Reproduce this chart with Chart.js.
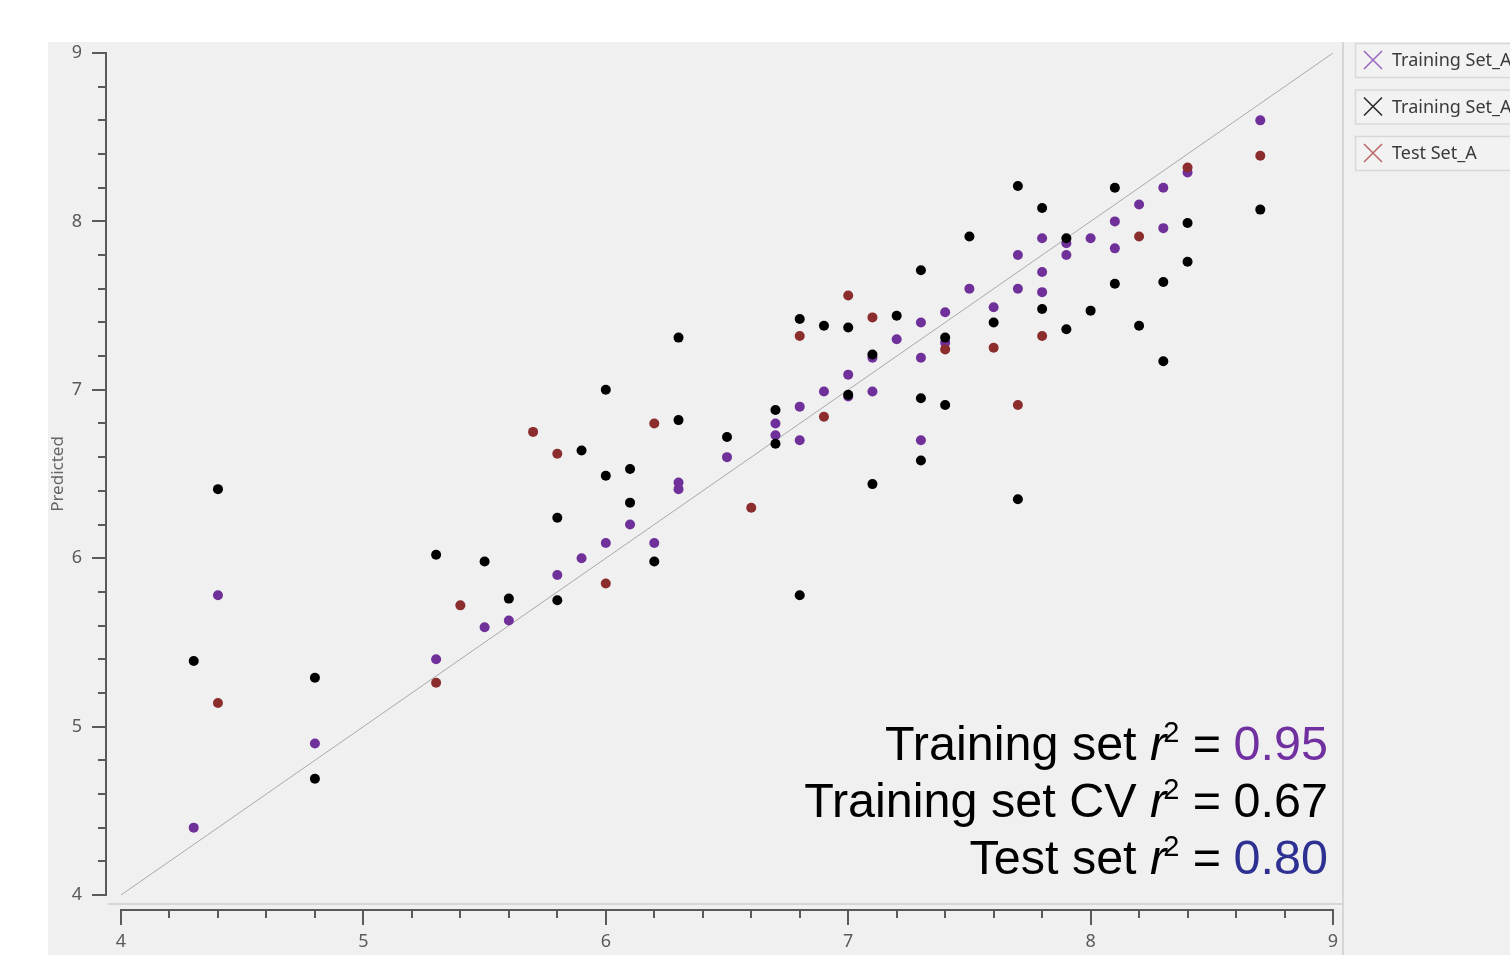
<!DOCTYPE html>
<html>
<head>
<meta charset="utf-8">
<title>Predicted vs observed</title>
<script src="https://cdn.jsdelivr.net/npm/chart.js@4/dist/chart.umd.min.js"></script>
<style>
  body { margin:0; background:#ffffff; }
  canvas { display:block; }
</style>
</head>
<body>
<canvas id="qsar" width="1510" height="955"></canvas>
<script>
// training set, fitted values (purple)
var trainX = [4.3,4.4,4.8,5.3,5.5,5.6,5.8,5.9,6.0,6.1,6.2,6.3,6.3,6.5,6.7,6.7,6.8,6.8,6.9,7.0,7.0,7.1,7.1,7.2,7.3,7.3,7.3,7.4,7.4,7.5,7.6,7.7,7.7,7.8,7.8,7.8,7.9,7.9,8.0,8.1,8.1,8.2,8.3,8.3,8.4,8.7];
var trainY = [4.40,5.78,4.90,5.40,5.59,5.63,5.90,6.00,6.09,6.20,6.09,6.41,6.45,6.60,6.73,6.80,6.70,6.90,6.99,6.96,7.09,6.99,7.19,7.30,6.70,7.19,7.40,7.28,7.46,7.60,7.49,7.60,7.80,7.58,7.70,7.90,7.80,7.87,7.90,7.84,8.00,8.10,7.96,8.20,8.29,8.60];

// training set, cross-validated (black)
var cvX = [4.3,4.4,4.8,4.8,5.3,5.5,5.6,5.8,5.8,5.9,6.0,6.0,6.1,6.1,6.2,6.3,6.3,6.5,6.7,6.7,6.8,6.8,6.9,7.0,7.0,7.1,7.1,7.2,7.3,7.3,7.3,7.4,7.4,7.5,7.6,7.7,7.7,7.8,7.8,7.9,7.9,8.0,8.1,8.1,8.2,8.3,8.3,8.4,8.4,8.7];
var cvY = [5.39,6.41,5.29,4.69,6.02,5.98,5.76,6.24,5.75,6.64,7.00,6.49,6.53,6.33,5.98,7.31,6.82,6.72,6.88,6.68,7.42,5.78,7.38,7.37,6.97,7.21,6.44,7.44,7.71,6.95,6.58,7.31,6.91,7.91,7.40,8.21,6.35,8.08,7.48,7.90,7.36,7.47,8.20,7.63,7.38,7.64,7.17,7.99,7.76,8.07];

// test set (dark red)
var testX = [4.4,5.3,5.4,5.7,5.8,6.0,6.2,6.6,6.8,6.9,7.0,7.1,7.4,7.6,7.7,7.8,8.2,8.4,8.7];
var testY = [5.14,5.26,5.72,6.75,6.62,5.85,6.80,6.30,7.32,6.84,7.56,7.43,7.24,7.25,6.91,7.32,7.91,8.32,8.39];

var seriesNames = ['Training Set_A', 'Training Set_A', 'Test Set_A'];
var seriesColors = ['#70309a', '#000000', '#8c2d2d'];
var legendMarks = ['#9b6cc0', '#2a2a2a', '#bb6a6a'];

var axisMin = 4, axisMax = 9;

var statLabels = ['Training set', 'Training set CV', 'Test set'];
var statValues = ['0.95', '0.67', '0.80'];
var statColors = ['#7030a0', '#000000', '#2e3192'];

var uiFont = '"Noto Sans", "DejaVu Sans", sans-serif';

function pairs(xs, ys) {
  var out = [];
  for (var i = 0; i < xs.length; i++) out.push({x: xs[i], y: ys[i]});
  return out;
}

function isMajor(v) {
  return Math.abs(v - Math.round(v)) < 1e-6;
}

// grey panel, separator lines
var panelPlugin = {
  id: 'panel',
  beforeDraw: function(chart) {
    var c = chart.ctx;
    c.save();
    c.fillStyle = '#ffffff';
    c.fillRect(0, 0, chart.width, chart.height);
    c.fillStyle = '#f0f0f0';
    c.fillRect(48, 42, chart.width - 48, chart.height - 42);
    c.fillStyle = '#d6d6d6';
    c.fillRect(108, 903, 1236, 2);
    c.fillRect(1342, 42, 2, chart.height - 42);
    c.restore();
  }
};

// axis lines sit a little outside the plot area, with major + minor ticks
var axesPlugin = {
  id: 'offsetAxes',
  afterDraw: function(chart) {
    var c = chart.ctx;
    var xs = chart.scales.x, ys = chart.scales.y;
    var ax = xs.left - 15;
    var ay = ys.bottom + 15;
    c.save();
    c.strokeStyle = '#5a5a5a';
    c.lineWidth = 2;
    c.beginPath();
    c.moveTo(ax, ys.top - 1);
    c.lineTo(ax, ys.bottom + 1);
    ys.ticks.forEach(function(t) {
      var py = Math.round(ys.getPixelForValue(t.value));
      var len = isMajor(t.value) ? 14 : 8;
      c.moveTo(ax - len, py);
      c.lineTo(ax, py);
    });
    c.moveTo(xs.left - 1, ay);
    c.lineTo(xs.right + 1, ay);
    xs.ticks.forEach(function(t) {
      var px = Math.round(xs.getPixelForValue(t.value));
      var len = isMajor(t.value) ? 15 : 8;
      c.moveTo(px, ay);
      c.lineTo(px, ay + len);
    });
    c.stroke();
    c.restore();
  }
};

// legend boxes on the right, cut by the window edge like the original
var legendPlugin = {
  id: 'sideLegend',
  afterDraw: function(chart) {
    var c = chart.ctx;
    c.save();
    for (var i = 0; i < seriesNames.length; i++) {
      var top = 43 + i * 46.5;
      c.fillStyle = '#f2f2f2';
      c.fillRect(1355, top, 170, 34);
      c.strokeStyle = '#d8d8d8';
      c.lineWidth = 1.5;
      c.strokeRect(1355.5, top + 0.5, 170, 34);
      var cx = 1373, cy = top + 17, h = 9;
      c.strokeStyle = legendMarks[i];
      c.lineWidth = 1.6;
      c.beginPath();
      c.moveTo(cx - h, cy - h); c.lineTo(cx + h, cy + h);
      c.moveTo(cx + h, cy - h); c.lineTo(cx - h, cy + h);
      c.stroke();
      c.fillStyle = '#3a3a3a';
      c.font = '18px ' + uiFont;
      c.textBaseline = 'middle';
      c.textAlign = 'left';
      c.fillText(chart.data.datasets[i].label, 1392, cy + 1);
    }
    c.restore();
  }
};

// r^2 summary in the lower right corner
var statsPlugin = {
  id: 'stats',
  afterDraw: function(chart) {
    var c = chart.ctx;
    var right = chart.scales.x.right - 5;
    var big = '48.5px "Liberation Sans", Arial, sans-serif';
    var ital = 'italic 48.5px "Liberation Sans", Arial, sans-serif';
    var sup = '29px "Liberation Sans", Arial, sans-serif';
    c.save();
    c.textBaseline = 'alphabetic';
    c.textAlign = 'left';
    for (var i = 0; i < statLabels.length; i++) {
      var base = 760 + i * 57;
      var parts = [
        {t: statLabels[i] + ' ', f: big, col: '#000', dy: 0, k: 0},
        {t: 'r', f: ital, col: '#000', dy: 0, k: -3},
        {t: '2', f: sup, col: '#000', dy: -18, k: 0},
        {t: ' = ', f: big, col: '#000', dy: 0, k: -1},
        {t: statValues[i], f: big, col: statColors[i], dy: 0, k: 0}
      ];
      var total = 0;
      parts.forEach(function(p) { c.font = p.f; p.w = c.measureText(p.t).width + p.k; total += p.w; });
      var x = right - total;
      parts.forEach(function(p) {
        c.font = p.f;
        c.fillStyle = p.col;
        c.fillText(p.t, x, base + p.dy);
        x += p.w;
      });
    }
    c.restore();
  }
};

var tickLabel = function(v) {
  return isMajor(v) ? String(Math.round(v)) : '';
};

var ctx = document.getElementById('qsar');
var qsarChart = new Chart(ctx, {
  type: 'scatter',
  data: {
    datasets: [
      {
        label: seriesNames[0], data: pairs(trainX, trainY),
        backgroundColor: seriesColors[0], borderColor: seriesColors[0],
        pointRadius: 5, borderWidth: 0, order: 3
      },
      {
        label: seriesNames[1], data: pairs(cvX, cvY),
        backgroundColor: seriesColors[1], borderColor: seriesColors[1],
        pointRadius: 5, borderWidth: 0, order: 2
      },
      {
        label: seriesNames[2], data: pairs(testX, testY),
        backgroundColor: seriesColors[2], borderColor: seriesColors[2],
        pointRadius: 5, borderWidth: 0, order: 1
      },
      {
        label: 'y = x', data: [{x: axisMin, y: axisMin}, {x: axisMax, y: axisMax}],
        showLine: true, borderColor: '#a9a9a9', borderWidth: 1,
        pointRadius: 0, order: 4
      }
    ]
  },
  options: {
    responsive: false,
    animation: false,
    layout: { padding: { left: 0, top: 53, right: 177, bottom: 0 } },
    plugins: {
      legend: { display: false },
      tooltip: { enabled: false }
    },
    scales: {
      x: {
        type: 'linear', min: axisMin, max: axisMax,
        grid: { display: false, drawTicks: false },
        border: { display: false },
        ticks: {
          stepSize: 0.2, autoSkip: false, maxRotation: 0, padding: 36,
          color: '#5a5a5a', font: { family: uiFont, size: 18 },
          callback: tickLabel
        },
        afterFit: function(s) { s.height = 60; }
      },
      y: {
        type: 'linear', min: axisMin, max: axisMax,
        grid: { display: false, drawTicks: false },
        border: { display: false },
        ticks: {
          stepSize: 0.2, autoSkip: false, padding: 39,
          color: '#5a5a5a', font: { family: uiFont, size: 18 },
          callback: tickLabel
        },
        title: {
          display: true, text: 'Predicted', color: '#666666',
          font: { family: uiFont, size: 17 },
          padding: { top: 48, bottom: 0 }
        },
        afterFit: function(s) { s.width = 121; }
      }
    }
  },
  plugins: [panelPlugin, axesPlugin, legendPlugin, statsPlugin]
});
</script>
</body>
</html>
